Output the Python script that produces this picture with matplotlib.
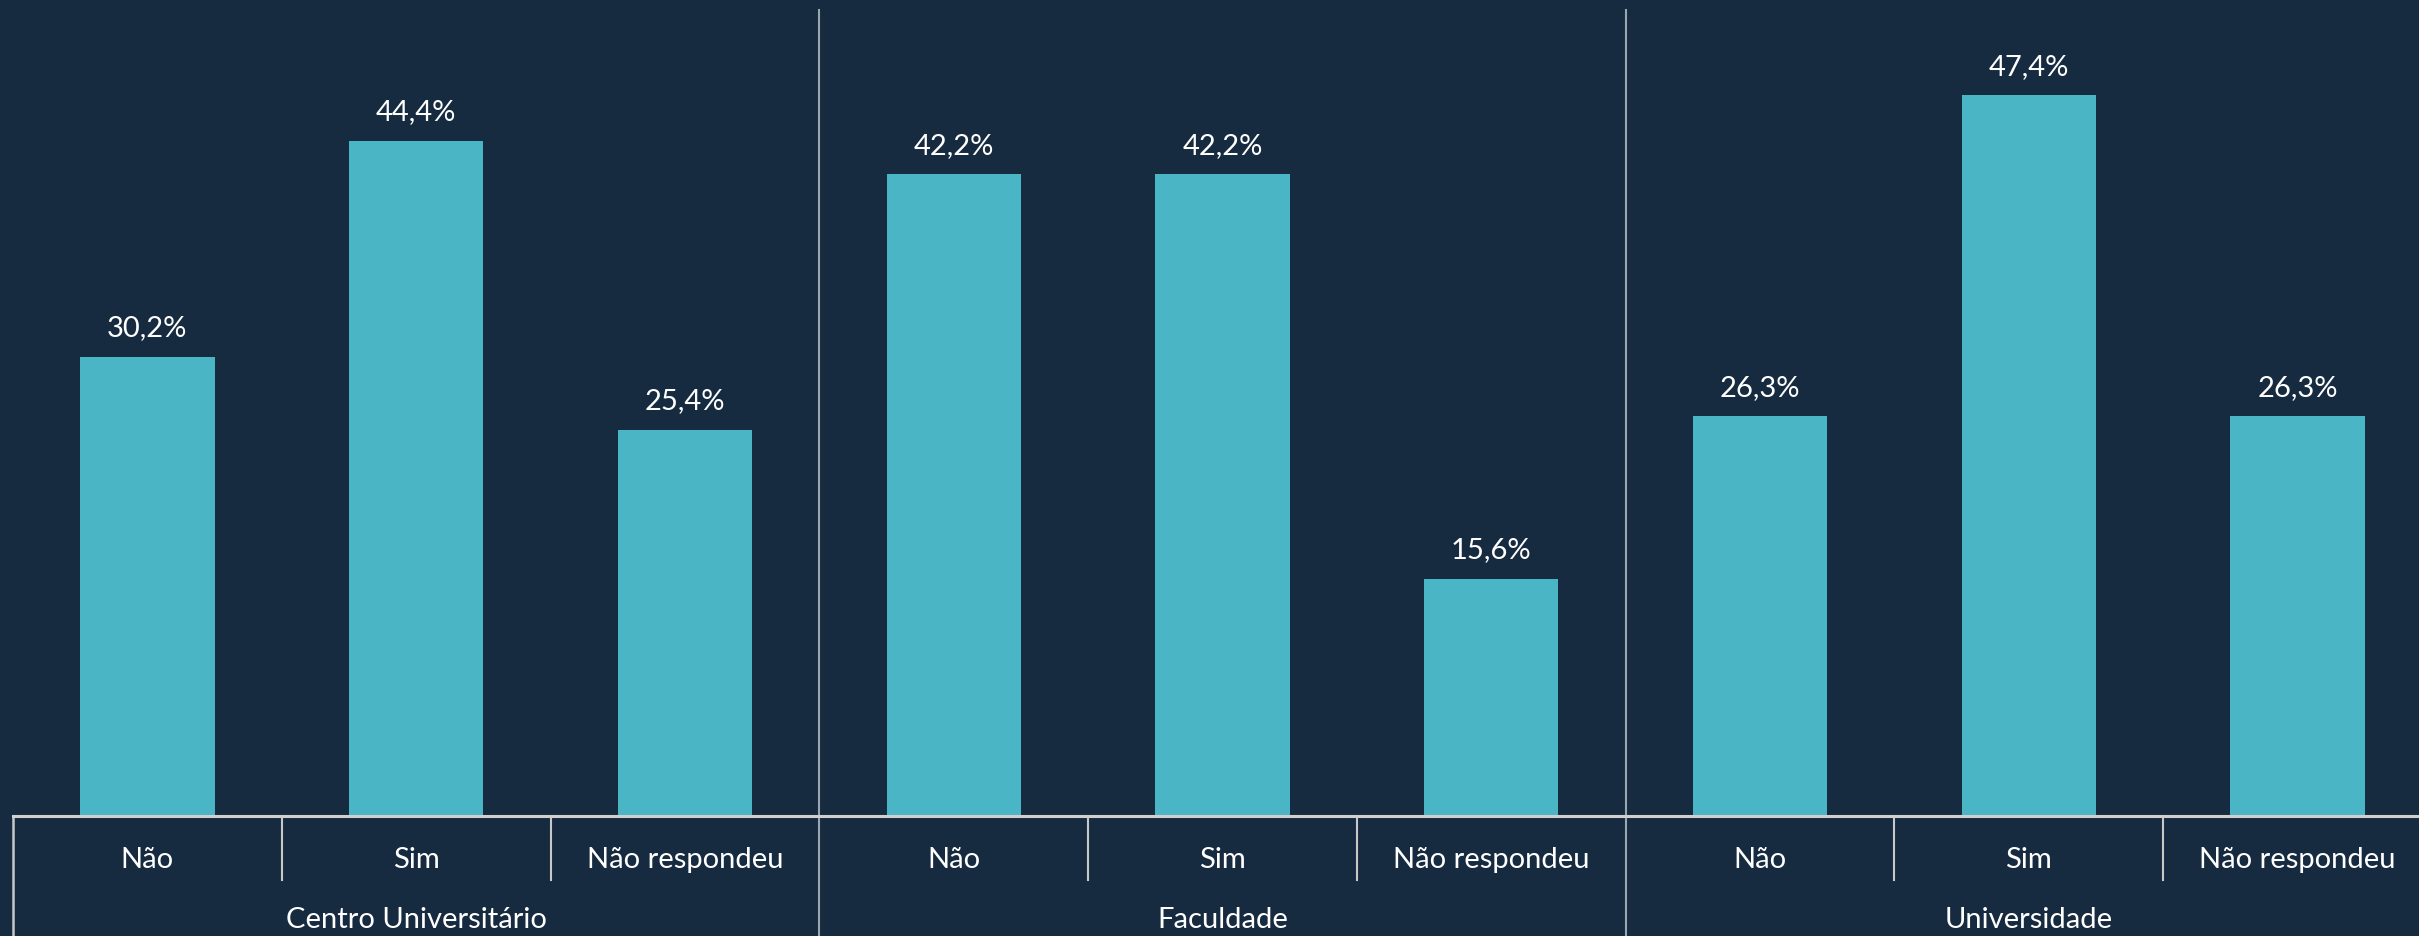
import matplotlib
matplotlib.use("Agg")
import matplotlib.pyplot as plt
from matplotlib.transforms import blended_transform_factory

groups = ["Centro Universitário", "Faculdade", "Universidade"]
categories = ["Não", "Sim", "Não respondeu"]
values = [
    [30.2, 44.4, 25.4],
    [42.2, 42.2, 15.6],
    [26.3, 47.4, 26.3],
]

BG = "#172B40"
BAR = "#4AB5C5"
FONT = "Lato"
FS = 21

W, H = 2419, 936
fig = plt.figure(figsize=(W / 100, H / 100), dpi=100)
fig.patch.set_facecolor(BG)

left_px, right_px, axis_px, top_px = 13, 2432, 816, 10
ax = fig.add_axes([left_px / W, (H - axis_px) / H, (right_px - left_px) / W, (axis_px - top_px) / H])
ax.set_facecolor(BG)
for s in ax.spines.values():
    s.set_visible(False)
ax.set_xticks([])
ax.set_yticks([])

n = len(categories)
xs, hs = [], []
for gi, g in enumerate(groups):
    for ci, c in enumerate(categories):
        xs.append(gi * n + ci + 0.5)
        hs.append(values[gi][ci])

ax.bar(xs, hs, width=0.5, color=BAR, zorder=2)
ax.set_xlim(0, len(groups) * n)
ax.set_ylim(0, 53.0)

for x, v in zip(xs, hs):
    ax.annotate(f"{v:.1f}%".replace(".", ","), (x, v), xytext=(0, 11),
                textcoords="offset points", ha="center", va="bottom",
                color="white", fontsize=FS, family=FONT)

trans = blended_transform_factory(ax.transData, fig.transFigure)
fy = lambda px: 1 - px / H

# axis line
ax.plot([0, len(groups) * n], [fy(axis_px)] * 2, transform=trans, color="#D0D0D0",
        lw=2.2, clip_on=False, zorder=3)
# left boundary line below axis
ax.plot([0, 0], [fy(axis_px), 0], transform=trans, color="#C8C8C8", lw=1.8, clip_on=False)
# group separators across whole height
for gi in range(1, len(groups)):
    ax.plot([gi * n, gi * n], [fy(top_px), 0], transform=trans, color="#9AA6B2",
            lw=1.5, clip_on=False, zorder=1)
# category separators below axis
for gi in range(len(groups)):
    for ci in range(1, n):
        xx = gi * n + ci
        ax.plot([xx, xx], [fy(axis_px), fy(880)], transform=trans, color="#C8C8C8",
                lw=1.5, clip_on=False)

# category labels
for x, (gi, ci) in zip(xs, [(g, c) for g in range(len(groups)) for c in range(n)]):
    ax.text(x, fy(860), categories[ci], transform=trans, ha="center", va="center",
            color="white", fontsize=FS, family=FONT)
for gi, g in enumerate(groups):
    ax.text(gi * n + n / 2, fy(920), g, transform=trans, ha="center", va="center",
            color="white", fontsize=FS, family=FONT)

fig.savefig("out.png", dpi=100, facecolor=BG)
